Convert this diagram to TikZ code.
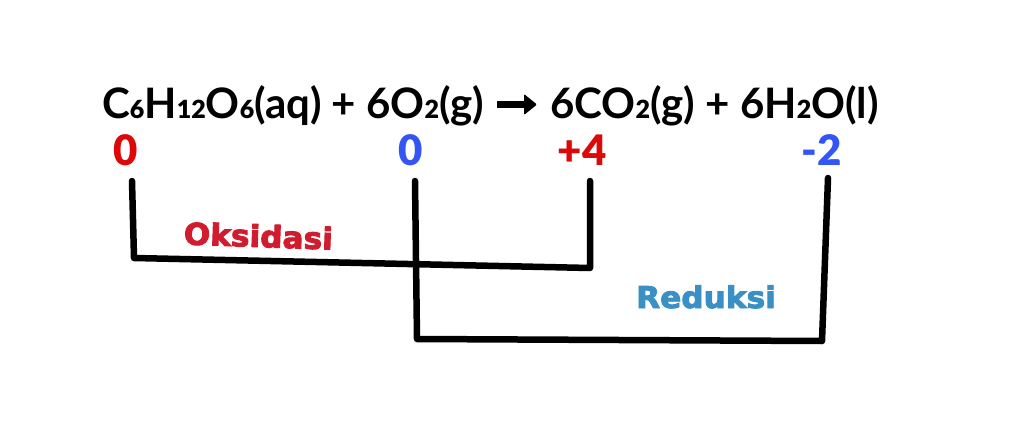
\documentclass[tikz,border=0pt]{standalone}
\usepackage{fontspec}
\setmainfont{Lato}
\newfontfamily\eqfont{Lato Bold}
\newfontfamily\subfont{Lato Black}
\newfontfamily\numfont{Lato Black}
\newfontfamily\tagfont{DejaVu Sans Bold}[FakeBold=3,FakeStretch=1.04]
\newcommand{\sbs}[1]{{\subfont\fontsize{25}{25}\selectfont\raisebox{-1pt}{#1}}}
\tikzset{
  x=1pt,y=-1pt,
  equation/.style={anchor=base west,inner sep=0pt,font=\eqfont\fontsize{42}{42}\selectfont},
  oxnum/.style={anchor=base,inner sep=0pt,font=\numfont\fontsize{42}{42}\selectfont},
  tagtext/.style={anchor=base,inner sep=0pt,font=\tagfont\fontsize{30}{30}\selectfont},
  bracket/.style={draw=black,line width=6.5pt,line cap=round,line join=round}
}
\definecolor{oxred}{HTML}{DD0808}
\definecolor{redblue}{HTML}{3355F5}
\definecolor{oxtag}{HTML}{D01C2E}
\definecolor{redtag}{HTML}{3A90C4}
\begin{document}
\begin{tikzpicture}
  \useasboundingbox (0,0) rectangle (1022,433);
  \node[equation] (lhs) at (102,118) {C\sbs{6}H\sbs{12}O\sbs{6}(aq) + 6O\sbs{2}(g)};
  \node[equation] (rhs) at (550,118) {6CO\sbs{2}(g) + 6H\sbs{2}O(l)};
  % reaction arrow
  \coordinate (arrowtail) at (497,104.5);
  \coordinate (arrowhead) at (537,104.5);
  \draw[line width=7pt] (arrowtail) -- (526,104.5);
  \fill[rounded corners=1pt] (524,94) -- (arrowhead) -- (524,115) -- cycle;
  % oxidation numbers
  \node[oxnum,text=oxred]   (c0)  at (126,165) {0};
  \node[oxnum,text=redblue] (o0)  at (411,165) {0};
  \node[oxnum,text=oxred]   (c4)  at (582,165) {+4};
  \node[oxnum,text=redblue] (o2)  at (822,165) {-2};
  % oxidation bracket
  \coordinate (a1) at (132,181);
  \coordinate (a2) at (134,258);
  \coordinate (a3) at (590,268);
  \coordinate (a4) at (590,181);
  \draw[bracket] (a1) -- (a2) -- (a3) -- (a4);
  % reduction bracket
  \coordinate (b1) at (415,181);
  \coordinate (b2) at (417,339);
  \coordinate (b3) at (822,341);
  \coordinate (b4) at (828,178);
  \draw[bracket] (b1) -- (b2) -- (b3) -- (b4);
  \node[tagtext,text=oxtag,rotate=-2] (oks) at (258,247) {Oksidasi};
  \node[tagtext,text=redtag] (red) at (706,308) {Reduksi};
\end{tikzpicture}
\end{document}
